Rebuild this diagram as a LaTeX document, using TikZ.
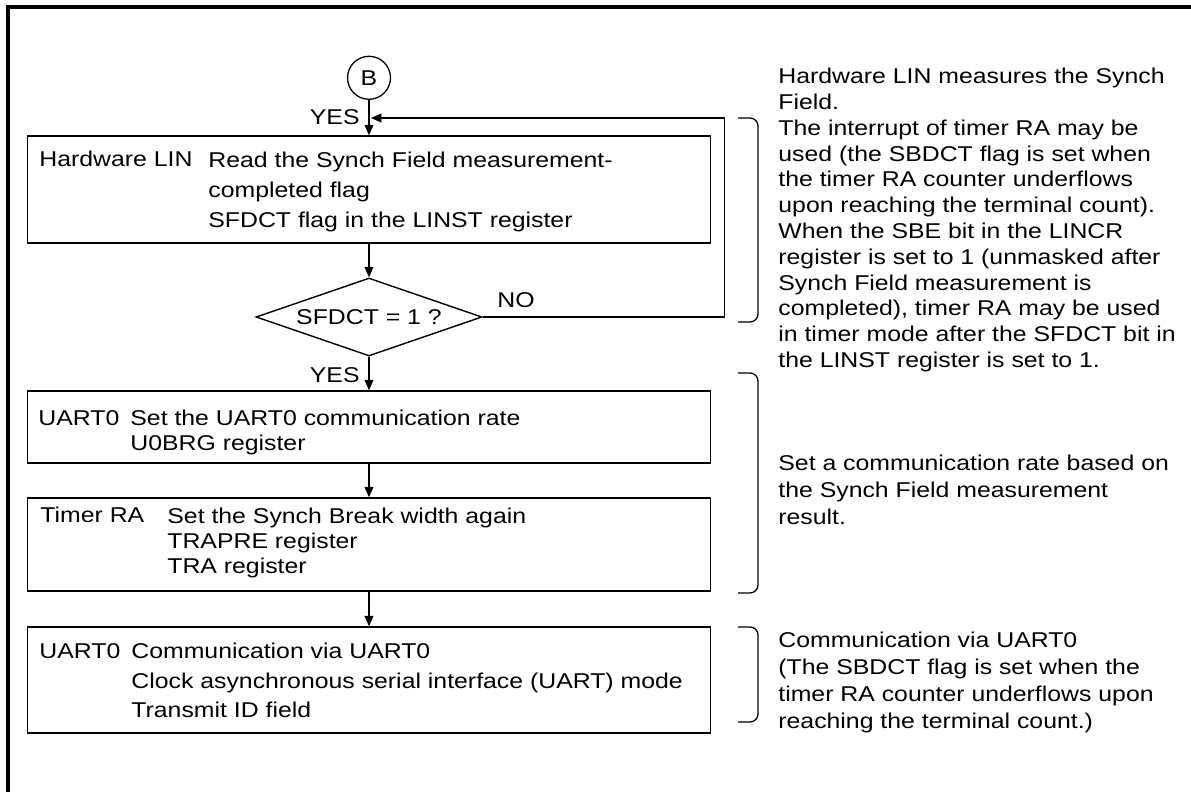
\documentclass[tikz,border=0pt]{standalone}
\usepackage{fontspec}
\setmainfont{Liberation Sans}[FakeStretch=1.16]
\usetikzlibrary{arrows.meta,shapes.geometric}
\tikzset{
  box/.style={draw,line width=.7pt,minimum width=341.5pt,inner sep=0pt},
  txt/.style={inner sep=0pt,anchor=north west,align=left},
  lab/.style={inner sep=0pt,anchor=base west},
  flow/.style={line width=.65pt,-{Triangle[length=5.2pt,width=4.4pt]}},
  brace/.style={line width=.65pt,rounded corners=4pt},
}
\begin{document}
\begin{tikzpicture}[x=.5pt,y=-.5pt,font=\fontsize{10.7}{12.9}\selectfont]
\useasboundingbox (0,0) rectangle (1191,792);
\draw[line width=1.7pt] (8,800) -- (8,7) -- (1200,7);
\node[draw,circle,line width=.65pt,minimum size=21.5pt,inner sep=0pt] (B) at (369,77.8) {B};
\node[box,minimum height=53.5pt] (hw) at (369,189.5) {};
\node[draw,diamond,aspect=3,line width=.7pt,minimum width=113pt,minimum height=39pt,inner sep=0pt] (dec) at (369,317) {SFDCT = 1 ?};
\node[box,minimum height=36pt] (uart) at (369,427) {};
\node[box,minimum height=46.5pt] (tra) at (369,544.5) {};
\node[box,minimum height=53pt] (com) at (369,680) {};
\coordinate (join) at (371,118);
\draw[flow] (B) -- (hw);
\draw[flow] (hw) -- (dec);
\draw[flow] (dec) -- (uart);
\draw[flow] (uart) -- (tra);
\draw[flow] (tra) -- (com);
\draw[flow] (dec.east) -- ++(242,0) |- (join);
\node[lab,anchor=base east] (yes1) at (360,125) {YES};
\node[lab,anchor=base east] (yes2) at (360,382) {YES};
\node[lab] (no) at (497,307) {NO};
\node[lab] (hwl) at (39,167) {Hardware LIN};
\node[txt,font=\fontsize{10.7}{15}\selectfont] (hwt) at (208,151.6) {Read the Synch Field measurement-\\completed flag\\SFDCT flag in the LINST register};
\node[lab] (uartl) at (38,425) {UART0};
\node[txt,font=\fontsize{10.7}{12.5}\selectfont] (uartt) at (130,409.6) {Set the UART0 communication rate\\U0BRG register};
\node[lab] (tral) at (40,523) {Timer RA};
\node[txt,font=\fontsize{10.7}{12.5}\selectfont] (trat) at (167,507.6) {Set the Synch Break width again\\TRAPRE register\\TRA register};
\node[lab] (coml) at (39,658) {UART0};
\node[txt,font=\fontsize{10.7}{14.75}\selectfont] (comt) at (131,642.6) {Communication via UART0\\Clock asynchronous serial interface (UART) mode\\Transmit ID field};
\draw[brace] (738,118) -| (758,322) -- (738,322);
\draw[brace] (738,373) -| (758,593) -- (738,593);
\draw[brace] (738,627) -| (758,722) -- (738,722);
\node[txt] (note1) at (778,67.7) {Hardware LIN measures the Synch\\Field.\\The interrupt of timer RA may be\\used (the SBDCT flag is set when\\the timer RA counter underflows\\upon reaching the terminal count).\\When the SBE bit in the LINCR\\register is set to 1 (unmasked after\\Synch Field measurement is\\completed), timer RA may be used\\in timer mode after the SFDCT bit in\\the LINST register is set to 1.};
\node[txt,font=\fontsize{10.7}{13.5}\selectfont] (note2) at (778,454.7) {Set a communication rate based on\\the Synch Field measurement\\result.};
\node[txt,font=\fontsize{10.7}{13.5}\selectfont] (note3) at (778,631.7) {Communication via UART0\\(The SBDCT flag is set when the\\timer RA counter underflows upon\\reaching the terminal count.)};
\end{tikzpicture}
\end{document}
